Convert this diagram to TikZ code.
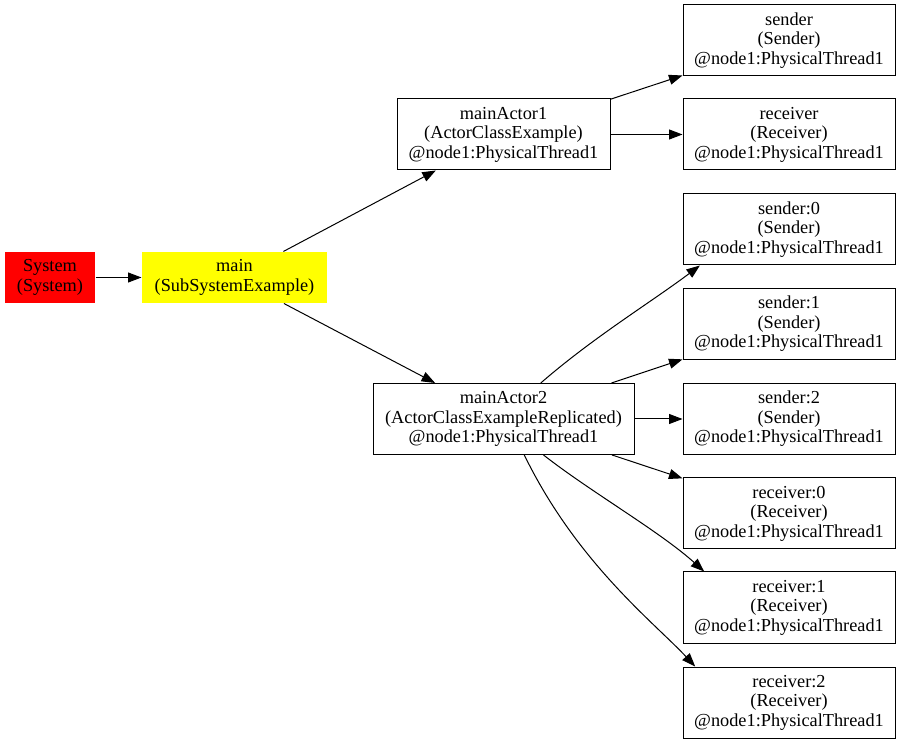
\documentclass[tikz,border=0pt]{standalone}
\usepackage{fontspec}
\setmainfont{Liberation Serif}
\usepackage{xcolor}
\usepackage{tikz}
\usetikzlibrary{arrows.meta}
\definecolor{SysRed}{HTML}{FF0000}
\definecolor{SubYellow}{HTML}{FFFF00}
\tikzset{
  actor/.style={draw=black,line width=1pt,minimum width=212pt,minimum height=71pt,inner sep=0pt,align=center,font=\fontsize{18.3}{19.5}\selectfont},
  sysbox/.style={actor,draw=none,minimum height=51pt},
  link/.style={-{Triangle[length=13.5pt,width=10pt]},line width=1pt}
}

\begin{document}
\begin{tikzpicture}[x=1pt,y=1pt]
  \useasboundingbox[fill=white] (0,0) rectangle (901,744);
  % system level
  \node[sysbox,fill=SysRed,minimum width=90pt] (sys) at (50,466.5) {System\\(System)};
  \node[sysbox,fill=SubYellow,minimum width=185pt] (main) at (234.5,466.5) {main\\(SubSystemExample)};
  \node[actor,minimum width=213pt] (ma1) at (503.5,609.5) {mainActor1\\(ActorClassExample)\\@node1:PhysicalThread1};
  \node[actor,minimum width=261pt] (ma2) at (503.5,325) {mainActor2\\(ActorClassExampleReplicated)\\@node1:PhysicalThread1};
  % right column
  \node[actor] (snd) at (789,703.5) {sender\\(Sender)\\@node1:PhysicalThread1};
  \node[actor] (rcv) at (789,609.5) {receiver\\(Receiver)\\@node1:PhysicalThread1};
  \node[actor] (s0) at (789,514.5) {sender:0\\(Sender)\\@node1:PhysicalThread1};
  \node[actor] (s1) at (789,420) {sender:1\\(Sender)\\@node1:PhysicalThread1};
  \node[actor] (s2) at (789,325) {sender:2\\(Sender)\\@node1:PhysicalThread1};
  \node[actor] (r0) at (789,230.5) {receiver:0\\(Receiver)\\@node1:PhysicalThread1};
  \node[actor] (r1) at (789,136.5) {receiver:1\\(Receiver)\\@node1:PhysicalThread1};
  \node[actor] (r2) at (789,41.5) {receiver:2\\(Receiver)\\@node1:PhysicalThread1};
  % edges
  \draw[link] (sys) -- (main);
  \draw[link] (main) -- (ma1);
  \draw[link] (main) -- (ma2);
  \draw[link] (ma1) -- (snd);
  \draw[link] (ma1) -- (rcv);
  \draw[link] (ma2.44) .. controls +(41:70) and +(217:60) .. (s0.202);
  \draw[link] (ma2) -- (s1);
  \draw[link] (ma2) -- (s2);
  \draw[link] (ma2) -- (r0);
  \draw[link] (ma2.-42) .. controls +(-38:60) and +(138:60) .. (r1.157);
  \draw[link] (ma2.-60) .. controls +(-64:120) and +(133:60) .. (r2.159);
\end{tikzpicture}
\end{document}
